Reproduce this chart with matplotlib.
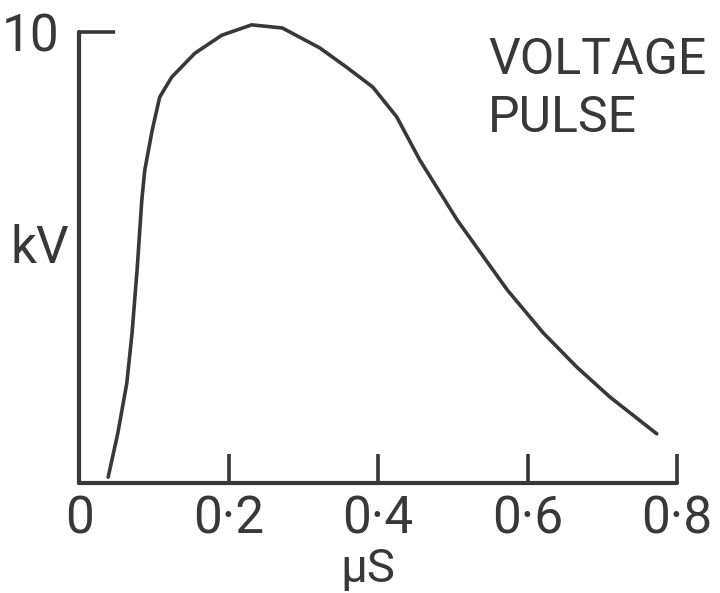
import matplotlib
matplotlib.use("Agg")
import matplotlib.pyplot as plt

# voltage pulse (time in microseconds, voltage in kV)
time_us = [0.039, 0.052, 0.064, 0.071, 0.078, 0.084, 0.088, 0.098, 0.108, 0.124,
           0.155, 0.191, 0.231, 0.272, 0.322, 0.358, 0.393, 0.425, 0.456, 0.506,
           0.573, 0.621, 0.666, 0.710, 0.773]
volts_kv = [0.13, 1.11, 2.22, 3.33, 4.79, 6.27, 6.94, 7.83, 8.56, 9.0,
            9.53, 9.93, 10.16, 10.09, 9.65, 9.22, 8.78, 8.12, 7.16, 5.83,
            4.28, 3.33, 2.57, 1.91, 1.09]

x_ticks = [0, 0.2, 0.4, 0.6, 0.8]
x_tick_labels = ["0", "0\u00b72", "0\u00b74", "0\u00b76", "0\u00b78"]
y_ticks = [10]
y_tick_labels = ["10"]

ink = "#383838"
plt.rcParams["font.family"] = ["Roboto", "DejaVu Sans"]

fig = plt.figure(figsize=(7.2, 5.93), dpi=100)
# axes box: x 0..0.8 spans px 79..677, y 0..10.6 spans px 483..5
ax = fig.add_axes([79 / 720, 110 / 593, 598 / 720, 478 / 593])
ax.set_xlim(0, 0.8)
ax.set_ylim(0, 10.6)

ax.plot(time_us, volts_kv, color=ink, lw=2.6, solid_capstyle="round",
        solid_joinstyle="round", clip_on=False)

for side in ["top", "right"]:
    ax.spines[side].set_visible(False)
for side in ["left", "bottom"]:
    ax.spines[side].set_color(ink)
    ax.spines[side].set_linewidth(3.0)
    ax.spines[side].set_capstyle("round")
ax.spines["left"].set_bounds(0, 10)

ax.set_xticks(x_ticks)
ax.set_xticklabels(x_tick_labels)
ax.set_yticks(y_ticks)
ax.set_yticklabels(y_tick_labels)
ax.tick_params(axis="x", direction="in", length=21, width=2.6, color=ink,
               labelsize=37, labelcolor=ink, pad=8)
ax.tick_params(axis="y", direction="in", length=26, width=2.6, color=ink,
               labelsize=37, labelcolor=ink, pad=14)
# no tick mark at the origin
ax.xaxis.get_major_ticks()[0].tick1line.set_visible(False)

ax.set_xlabel("\u03bcS", fontsize=34, color=ink, va="baseline")
ax.xaxis.set_label_coords((368 - 79) / 598, (483 - 582) / 478)
ax.set_ylabel("kV", fontsize=37, color=ink, rotation=0, va="center", ha="center")
ax.yaxis.set_label_coords((40 - 79) / 598, (483 - 249) / 478)

ax.text(488 / 720, 1 - 36 / 593, "VOLTAGE\nPULSE", transform=fig.transFigure,
        fontsize=36, color=ink, ha="left", va="top", linespacing=1.25)

fig.savefig("out.png", dpi=100, facecolor="white")
